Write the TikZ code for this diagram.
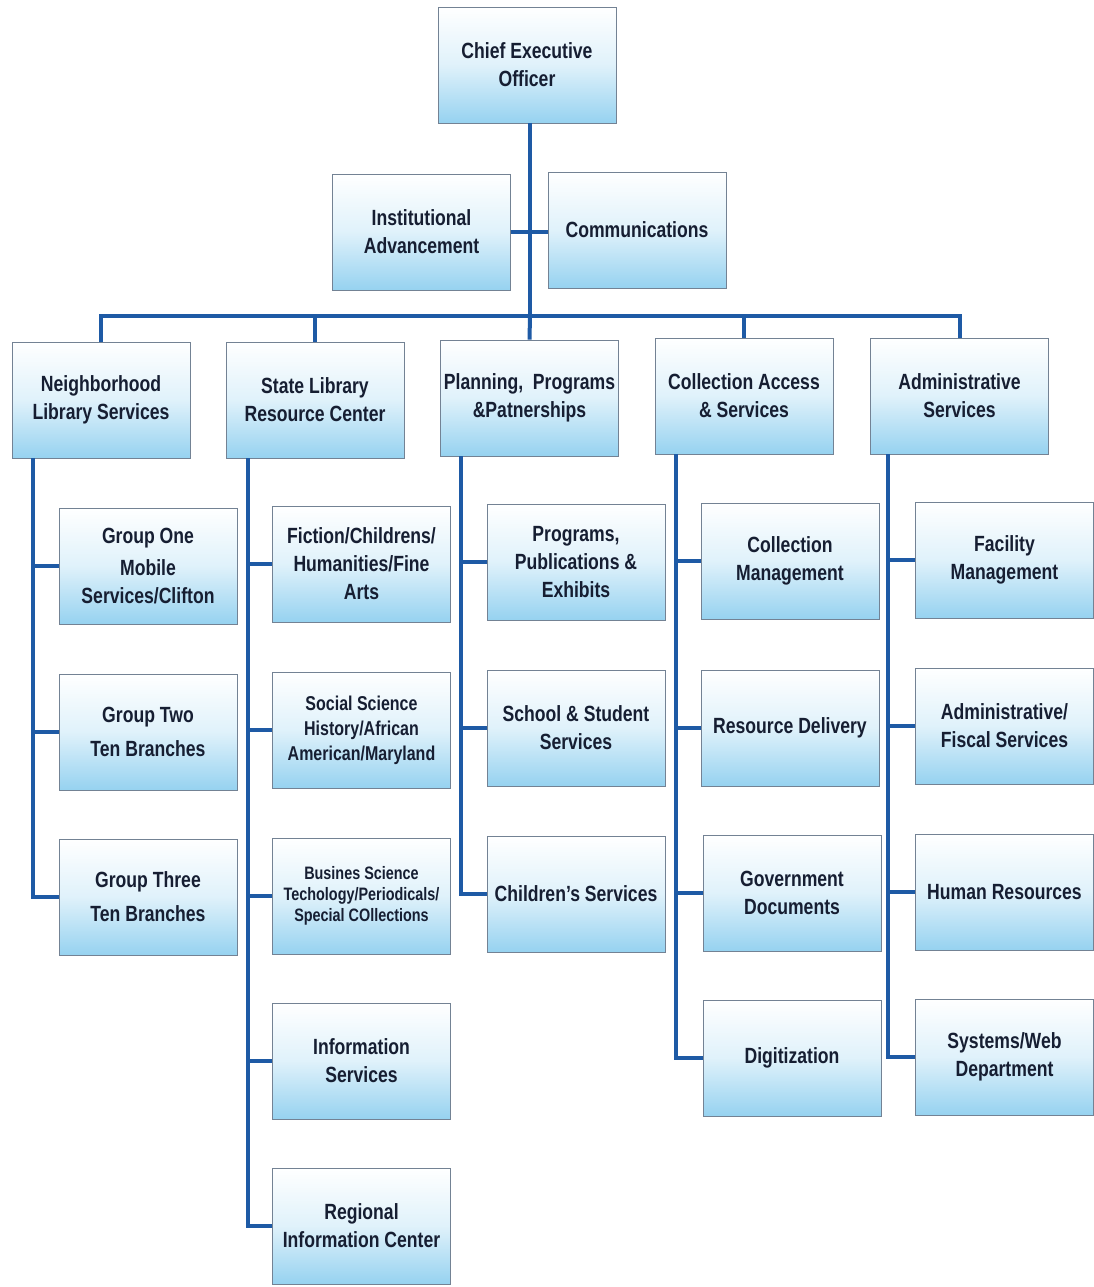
\documentclass[tikz,border=0pt]{standalone}
\usepackage{fontspec}
\setmainfont{Liberation Sans}[FakeStretch=0.8]
\definecolor{boxblue}{RGB}{150,210,240}
\definecolor{linkblue}{RGB}{30,90,165}
\definecolor{txt}{RGB}{22,30,50}
\definecolor{edge}{RGB}{115,130,148}
\tikzset{
  orgbox/.style={rectangle, draw=edge, line width=0.9pt,
    top color=white, bottom color=boxblue, middle color=boxblue!30,
    minimum width=178pt, minimum height=116pt, align=center,
    text=txt, font=\bfseries\fontsize{22}{28}\selectfont, inner sep=2pt},
  smallbox/.style={orgbox, font=\bfseries\fontsize{20}{25}\selectfont},
  tinybox/.style={orgbox, font=\bfseries\fontsize{18}{21}\selectfont},
  link/.style={draw=linkblue, line width=4pt}
}
\begin{document}
\begin{tikzpicture}[x=1pt,y=-1pt]
\useasboundingbox (0,0) rectangle (1093,1287);
\fill[white] (0,0) rectangle (1093,1287);
% top
\node[orgbox] (ceo) at (527,65) {Chief Executive\\Officer};
\node[orgbox] (ia) at (421.5,232) {Institutional\\Advancement};
\node[orgbox] (comm) at (637,230) {Communications};
% level 2
\node[orgbox] (nls) at (101,400) {Neighborhood\\Library Services};
\node[orgbox] (slrc) at (315,400) {State Library\\Resource Center};
\node[orgbox] (ppp) at (529.5,398) {Planning,\ \ Programs\\\&Patnerships};
\node[orgbox] (cas) at (744,396) {Collection Access\\\& Services};
\node[orgbox] (adm) at (959.5,396) {Administrative\\Services};
% column 1
\node[orgbox] (g1) at (148,566) {Group One\\[4pt]Mobile\\Services/Clifton};
\node[orgbox] (g2) at (148,732) {Group Two\\[6pt]Ten Branches};
\node[orgbox] (g3) at (148,897) {Group Three\\[6pt]Ten Branches};
% column 2
\node[orgbox] (s1) at (361.5,564) {Fiction/Childrens/\\Humanities/Fine\\Arts};
\node[smallbox] (s2) at (361.5,730) {Social Science\\History/African\\American/Maryland};
\node[tinybox] (s3) at (361.5,896) {Busines Science\\Techology/Periodicals/\\Special COllections};
\node[orgbox] (s4) at (361.5,1061) {Information\\Services};
\node[orgbox] (s5) at (361.5,1226) {Regional\\Information Center};
% column 3
\node[orgbox] (p1) at (576,562) {Programs,\\Publications \&\\Exhibits};
\node[orgbox] (p2) at (576,728) {School \& Student\\Services};
\node[orgbox] (p3) at (576,894) {Children's Services};
% column 4
\node[orgbox] (c1) at (790,561) {Collection\\Management};
\node[orgbox] (c2) at (790,728) {Resource Delivery};
\node[orgbox] (c3) at (792,893) {Government\\Documents};
\node[orgbox] (c4) at (792,1058) {Digitization};
% column 5
\node[orgbox] (a1) at (1004.5,560) {Facility\\Management};
\node[orgbox] (a2) at (1004.5,726) {Administrative/\\Fiscal Services};
\node[orgbox] (a3) at (1004.5,892) {Human Resources};
\node[orgbox] (a4) at (1004.5,1057) {Systems/Web\\Department};
% connectors
\coordinate (bus) at (530,316);
\coordinate (ceoout) at (530,123);
\draw[link] (ceoout) -- (bus);
\draw[link] (ia.east) -- (comm.west |- ia.east);
\draw[link] (bus) -| (nls.north);
\draw[link] (bus) -| (slrc.north);
\draw[link] (bus) -- (ppp.north);
\draw[link] (bus) -| (cas.north);
\draw[link] (bus) -| (adm.north);
\coordinate (k1) at ([xshift=21pt]nls.south west);
\coordinate (k2) at ([xshift=22pt]slrc.south west);
\coordinate (k3) at ([xshift=21pt]ppp.south west);
\coordinate (k4) at ([xshift=21pt]cas.south west);
\coordinate (k5) at ([xshift=18pt]adm.south west);
\foreach \c in {g1,g2,g3} \draw[link] (k1) |- (\c.west);
\foreach \c in {s1,s2,s3,s4,s5} \draw[link] (k2) |- (\c.west);
\foreach \c in {p1,p2,p3} \draw[link] (k3) |- (\c.west);
\foreach \c in {c1,c2,c3,c4} \draw[link] (k4) |- (\c.west);
\foreach \c in {a1,a2,a3,a4} \draw[link] (k5) |- (\c.west);
\end{tikzpicture}
\end{document}
